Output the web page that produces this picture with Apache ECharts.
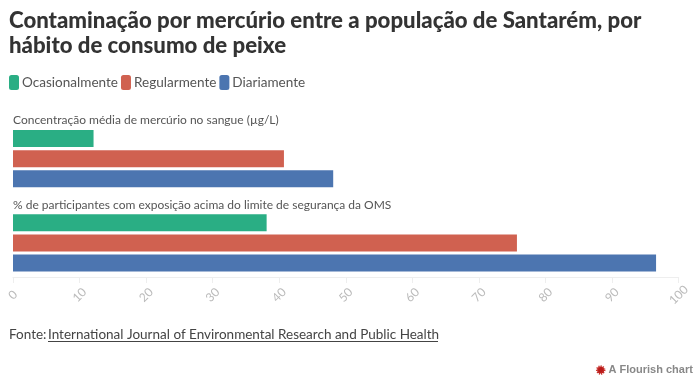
<!DOCTYPE html>
<html><head><meta charset="utf-8">
<style>html,body{margin:0;padding:0;background:#fff}#c{width:699px;height:385px}</style>
<script src="https://cdn.jsdelivr.net/npm/echarts@6/dist/echarts.min.js"></script></head>
<body><div id="c"></div>
<script>
const categories = ["Concentração média de mercúrio no sangue (µg/L)", "% de participantes com exposição acima do limite de segurança da OMS"];
const ocasionalmente = [12.1, 38.1];
const regularmente = [40.7, 75.7];
const diariamente = [48.1, 96.6];
const seriesNames = ["Ocasionalmente", "Regularmente", "Diariamente"];
const seriesColors = ["#2aae84", "#d06150", "#4c75b0"];
const titleLines = "Contaminação por mercúrio entre a população de Santarém, por\nhábito de consumo de peixe";
const FONT = "Lato";

const chart = echarts.init(document.getElementById('c'), null, {renderer:'canvas'});
const mk = (i, d) => ({
  name: seriesNames[i], type:'bar', data:d, barWidth:17, barGap:'18%',
  itemStyle:{color:seriesColors[i]}, silent:true, animation:false,
  label: i===0 ? {show:true, position:'insideLeft', distance:0, offset:[0,-18],
    formatter:p=>p.name, color:'#555', fontFamily:FONT, fontSize:12} : {show:false}
});
chart.setOption({
  animation:false,
  textStyle:{fontFamily:FONT},
  title:{text:titleLines, left:9, top:8, padding:0, textStyle:{fontFamily:FONT,fontSize:22.2,fontWeight:900,color:'#333',lineHeight:25.5}},
  legend:{left:9, top:75, padding:0, itemWidth:10, itemHeight:15, itemGap:3, icon:'roundRect', selectedMode:false,
    data:seriesNames, textStyle:{fontFamily:FONT,fontSize:13.55,color:'#555',padding:[0,0,0,-2]}},
  grid:{left:13, right:20.3, top:116.5, bottom:100},
  xAxis:{type:'value', min:0, max:100, interval:10, offset:-8,
    axisLine:{show:true,lineStyle:{color:'#eee'}}, axisTick:{show:true,length:6,lineStyle:{color:'#eee'}},
    splitLine:{show:false},
    axisLabel:{rotate:45,color:'#bbb',fontSize:12,fontFamily:FONT,margin:18,align:'center',verticalAlign:'middle'}},
  yAxis:{type:'category', inverse:true, data:categories, axisLine:{show:false},axisTick:{show:false},axisLabel:{show:false}},
  series:[mk(0,ocasionalmente),mk(1,regularmente),mk(2,diariamente)],
  graphic:[
    {type:'text',left:9,top:328,style:{text:'Fonte:',fontFamily:FONT,fontSize:13.5,fill:'#444'}},
    {type:'text',left:48,top:328,style:{text:'International Journal of Environmental Research and Public Health',fontFamily:FONT,fontSize:13.5,fill:'#444'}},
    {type:'line',shape:{x1:48,y1:341.5,x2:438,y2:341.5},style:{stroke:'#444',lineWidth:1}},
    {type:'circle',shape:{cx:600.7,cy:370,r:3.5},style:{fill:'#b81a1a',stroke:'#c8302a',lineWidth:2.5,lineDash:[1,1]}},
    {type:'text',left:608.5,top:364,style:{text:'A Flourish chart',fontFamily:'Liberation Sans',fontSize:11,fontWeight:'bold',fill:'#888'}}
  ]
});
</script></body></html>
